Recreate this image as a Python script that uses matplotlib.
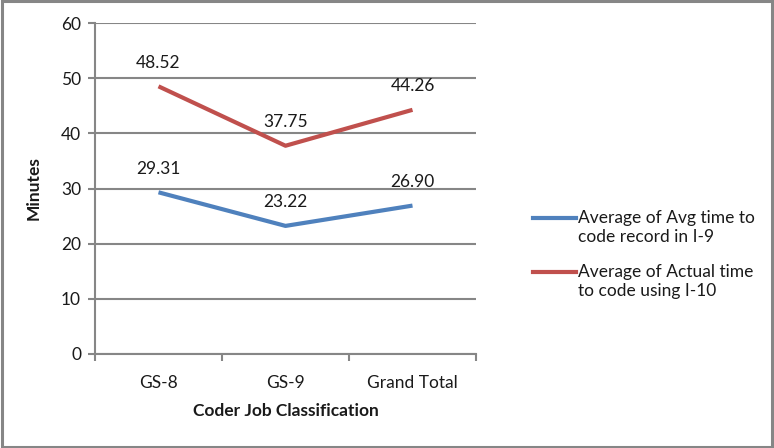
import matplotlib
matplotlib.use("Agg")
import matplotlib.pyplot as plt
from matplotlib.lines import Line2D
from matplotlib.patches import Rectangle

categories = ["GS-8", "GS-9", "Grand Total"]
series_names = ["Average of Avg time to\ncode record in I-9",
                "Average of Actual time\nto code using I-10"]
i9_values = [29.31, 23.22, 26.90]
i10_values = [48.52, 37.75, 44.26]
y_ticks = [0, 10, 20, 30, 40, 50, 60]
colors = ["#4F81BD", "#C0504D"]

plt.rcParams['font.family'] = ['Lato', 'DejaVu Sans']
FS = 12.5
TXT = '#1a1a1a'
W, H = 774, 448
fig = plt.figure(figsize=(W/100, H/100), dpi=100)
ax = fig.add_axes([95/W, 1-354/H, (476-95)/W, (354-23)/H])

x = list(range(len(categories)))
for vals, c in zip([i9_values, i10_values], colors):
    ax.plot(x, vals, color=c, lw=3.0, solid_capstyle='butt')
    for xi, v in zip(x, vals):
        ax.annotate(f"{v:.2f}", (xi, v), xytext=(0, 13.5), textcoords='offset points',
                    ha='center', va='baseline', fontsize=FS, color=TXT)

ax.set_xlim(-0.5, len(categories)-0.5)
ax.set_ylim(0, 60)
ax.set_yticks(y_ticks)
ax.set_yticklabels([str(t) for t in y_ticks])
ax.set_xticks(x)
ax.set_xticklabels(categories)
ax.tick_params(axis='x', length=0, pad=15, labelsize=FS, labelcolor=TXT)
ax.tick_params(axis='y', length=5, width=1.5, color='#868686', pad=5, labelsize=FS, labelcolor=TXT)
ax.set_xticks([-0.5 + i for i in range(len(categories)+1)], minor=True)
ax.tick_params(axis='x', which='minor', length=5, width=1.5, color='#868686', direction='out')
ax.grid(axis='y', color='#868686', lw=1.5)
ax.set_axisbelow(True)
for s in ['top', 'right']:
    ax.spines[s].set_visible(False)
for s in ['left', 'bottom']:
    ax.spines[s].set_color('#868686')
    ax.spines[s].set_linewidth(1.5)

ax.set_ylabel("Minutes", fontsize=FS, fontweight='bold', color=TXT, labelpad=14)
ax.set_xlabel("Coder Job Classification", fontsize=FS, fontweight='bold', color=TXT, labelpad=9)

# legend
leg_y = [218, 272]
for name, c, yy in zip(series_names, colors, leg_y):
    fig.add_artist(Line2D([533/W, 576/W], [1-yy/H, 1-yy/H], color=c, lw=3.0,
                          transform=fig.transFigure))
    fig.text(578/W, 1-(yy-8)/H, name, ha='left', va='top', fontsize=FS,
             color=TXT, linespacing=1.2)

fig.add_artist(Rectangle((0.002, 0.003), 0.995, 0.994, transform=fig.transFigure,
                         fill=False, edgecolor='#868686', lw=2.2))
fig.savefig("out.png", dpi=100)
